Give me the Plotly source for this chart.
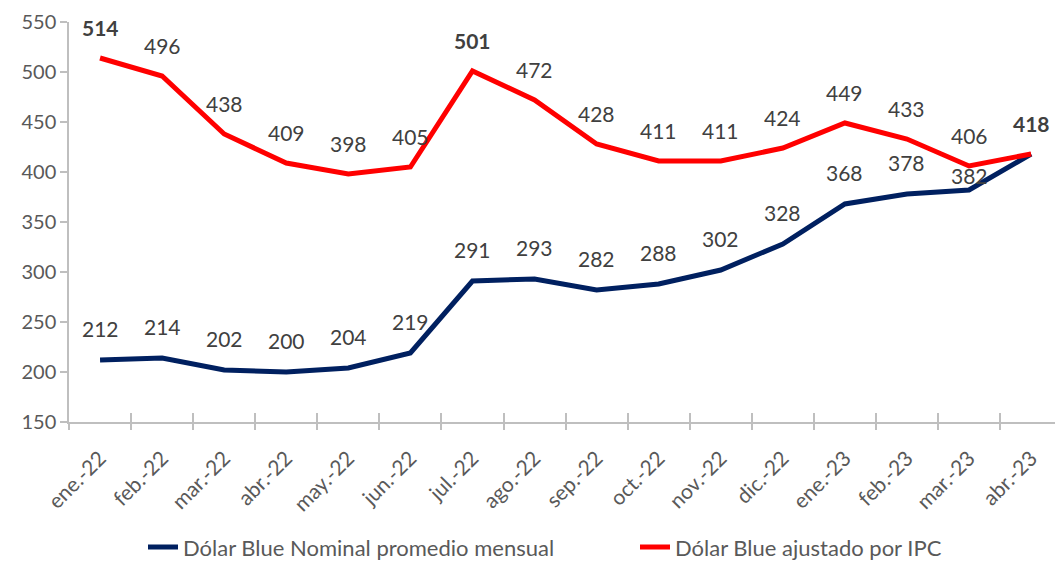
import plotly.graph_objects as go

categories = ["ene.-22", "feb.-22", "mar.-22", "abr.-22", "may.-22", "jun.-22",
              "jul.-22", "ago.-22", "sep.-22", "oct.-22", "nov.-22", "dic.-22",
              "ene.-23", "feb.-23", "mar.-23", "abr.-23"]
nominal = [212, 214, 202, 200, 204, 219, 291, 293, 282, 288, 302, 328, 368, 378, 382, 418]
ajustado = [514, 496, 438, 409, 398, 405, 501, 472, 428, 411, 411, 424, 449, 433, 406, 418]

name_nominal = "Dólar Blue Nominal promedio mensual"
name_ajustado = "Dólar Blue ajustado por IPC"

FONT = "Lato"
LABEL_COLOR = "#404040"
AXIS_COLOR = "#BFBFBF"
TICK_TEXT = "#595959"

fig = go.Figure()
fig.add_trace(go.Scatter(x=categories, y=nominal, mode="lines", name=name_nominal,
                         line=dict(color="#002060", width=5), hoverinfo="skip",
                         legend="legend"))
fig.add_trace(go.Scatter(x=categories, y=ajustado, mode="lines", name=name_ajustado,
                         line=dict(color="#FF0000", width=5), hoverinfo="skip",
                         legend="legend2"))
# invisible trace on overlay axis (for inside tick marks)
fig.add_trace(go.Scatter(x=categories, y=nominal, mode="lines", xaxis="x2",
                         line=dict(width=0), opacity=0, showlegend=False, hoverinfo="skip"))

annotations = []
bold_red = {0, 6}
for i, (c, v) in enumerate(zip(categories, ajustado)):
    last = i == len(categories) - 1
    txt = f"<b>{v}</b>" if (i in bold_red or last) else str(v)
    annotations.append(dict(x=c, y=v, text=txt, showarrow=False, yanchor="middle",
                            yshift=31, font=dict(family=FONT, size=21, color=LABEL_COLOR)))
for i, (c, v) in enumerate(zip(categories, nominal)):
    if i == len(categories) - 1:
        continue
    shift = 15 if i == 14 else 32
    annotations.append(dict(x=c, y=v, text=str(v), showarrow=False, yanchor="middle",
                            yshift=shift, font=dict(family=FONT, size=21, color=LABEL_COLOR)))

xr = [-0.5, 15.385]
legend_font = dict(family=FONT, size=22, color=TICK_TEXT)
fig.update_layout(
    width=1055, height=563,
    margin=dict(l=69, r=0, t=22, b=141, autoexpand=False),
    plot_bgcolor="white", paper_bgcolor="white",
    font=dict(family=FONT, color=TICK_TEXT),
    annotations=annotations,
    showlegend=True,
    legend=dict(orientation="h", x=(133 - 69 + 10) / 986, xanchor="left", y=-0.313,
                yanchor="middle", font=legend_font, bgcolor="rgba(0,0,0,0)"),
    legend2=dict(orientation="h", x=(625 - 69 + 10) / 986, xanchor="left", y=-0.313,
                 yanchor="middle", font=legend_font, bgcolor="rgba(0,0,0,0)"),
    xaxis=dict(type="category", categoryorder="array", categoryarray=categories,
               range=xr, showgrid=False, showline=True, linecolor=AXIS_COLOR, linewidth=1.5,
               ticks="outside", tickson="boundaries", ticklen=6, tickcolor=AXIS_COLOR,
               tickwidth=1.5, tickangle=-45, ticklabelstandoff=14, automargin=False,
               tickfont=dict(family=FONT, size=21, color=TICK_TEXT), zeroline=False),
    xaxis2=dict(type="category", categoryorder="array", categoryarray=categories,
                range=xr, overlaying="x", showgrid=False, showline=False,
                ticks="inside", tickson="boundaries", ticklen=9, tickcolor=AXIS_COLOR,
                tickwidth=1.5, showticklabels=False, zeroline=False, automargin=False),
    yaxis=dict(range=[150, 550], dtick=50, showgrid=False, showline=True,
               linecolor=AXIS_COLOR, linewidth=1.5, ticks="outside", ticklen=7,
               tickcolor=AXIS_COLOR, tickwidth=1.5, zeroline=False, automargin=False,
               tickfont=dict(family=FONT, size=20, color=TICK_TEXT)),
)

fig.write_html("out.html")
